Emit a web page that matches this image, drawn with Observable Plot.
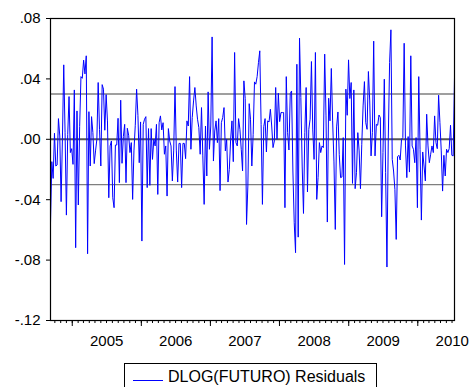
<!DOCTYPE html>
<html>
<head>
<meta charset="utf-8">
<script src="https://cdn.jsdelivr.net/npm/d3@7"></script>
<script src="https://cdn.jsdelivr.net/npm/@observablehq/plot@0.6"></script>
<style>
  html, body { margin: 0; padding: 0; background: #fff; }
  #wrap { position: relative; width: 473px; height: 387px; overflow: hidden; font-family: "Liberation Sans", Arial, sans-serif; }
  #legend { position: absolute; left: 124px; top: 363px; width: 253px; height: 30px; border: 1px solid #000; box-sizing: border-box; background: #fff; }
  #legend .swatch { position: absolute; left: 8px; top: 16px; width: 30px; height: 0; border-top: 1px solid #0000ff; }
  #legend .label { position: absolute; left: 43px; top: 4px; font-size: 16px; color: #000; white-space: nowrap; }
</style>
</head>
<body>
<div id="wrap"><div id="chart"></div><div id="legend"><div class="swatch"></div><div class="label">DLOG(FUTURO) Residuals</div></div></div>
<script>
// Weekly residuals, first observation
const startDate = "2004-09-08";
const residuals = [
-0.0557,-0.0148,-0.0259,0.0040,-0.0177,-0.0170,0.0137,0.0022,-0.0413,0.0000,
0.0493,0.0044,-0.0502,0.0033,0.0283,-0.0088,-0.0062,-0.0166,0.0327,-0.0718,
0.0188,-0.0435,0.0084,0.0415,0.0404,0.0524,0.0433,0.0553,-0.0758,0.0183,
-0.0177,0.0150,0.0044,-0.0161,-0.0077,0.0000,0.0376,0.0066,-0.0177,0.0362,
0.0332,0.0060,0.0296,0.0122,-0.0387,-0.0044,-0.0011,-0.0387,-0.0453,-0.0038,
-0.0038,0.0139,-0.0287,0.0259,-0.0159,0.0018,0.0099,-0.0287,0.0073,0.0027,
-0.0088,-0.0022,-0.0398,-0.0077,0.0093,0.0332,0.0159,-0.0155,0.0115,-0.0674,
0.0099,0.0133,0.0150,-0.0320,0.0071,-0.0305,0.0071,-0.0133,0.0000,-0.0044,
0.0099,-0.0365,0.0110,0.0155,0.0062,0.0110,-0.0099,-0.0044,-0.0376,0.0071,
-0.0011,-0.0044,-0.0276,-0.0077,0.0349,-0.0077,-0.0283,-0.0027,-0.0027,-0.0320,
-0.0027,-0.0027,-0.0128,0.0122,0.0088,0.0415,-0.0066,0.0144,0.0254,0.0343,
0.0221,0.0133,0.0077,-0.0099,0.0210,-0.0110,-0.0431,0.0088,-0.0243,0.0314,
-0.0066,0.0088,0.0678,-0.0144,0.0055,0.0122,-0.0022,0.0137,-0.0340,0.0110,
0.0144,0.0210,-0.0077,0.0000,-0.0283,-0.0199,0.0000,0.0122,-0.0148,0.0575,
-0.0022,-0.0044,0.0137,0.0066,-0.0066,-0.0210,0.0387,0.0270,-0.0564,
-0.0309,0.0236,0.0133,-0.0177,0.0033,0.0380,0.0365,0.0415,0.0508,0.0586,
0.0099,-0.0431,0.0084,0.0137,-0.0084,0.0122,0.0115,0.0199,0.0088,-0.0055,
-0.0011,0.0343,0.0000,0.0305,0.0117,0.0177,0.0177,0.0177,-0.0453,0.0415,
0.0044,-0.0071,0.0303,0.0320,-0.0210,-0.0553,-0.0751,0.0497,-0.0648,0.0670,
0.0276,-0.0177,-0.0491,0.0044,0.0343,-0.0349,0.0066,0.0133,0.0515,0.0062,
-0.0133,0.0575,-0.0398,-0.0254,-0.0022,-0.0088,-0.0044,-0.0055,0.0564,0.0155,
-0.0548,0.0272,0.0122,0.0469,0.0122,-0.0150,-0.0597,0.0082,0.0181,-0.0102,
-0.0254,-0.0250,0.0011,-0.0829,
0.0332,0.0159,0.0526,0.0270,0.0376,-0.0292,0.0327,-0.0327,-0.0221,0.0044,
-0.0077,-0.0327,-0.0033,0.0221,0.0382,0.0110,0.0066,0.0449,0.0254,-0.0110,
0.0044,0.0650,-0.0110,0.0099,0.0093,0.0161,0.0144,-0.0513,-0.0088,0.0398,
-0.0221,-0.0846,0.0000,0.0508,0.0725,-0.0133,-0.0210,-0.0332,-0.0663,-0.0115,
-0.0106,-0.0137,0.0000,0.0011,0.0636,-0.0044,-0.0254,0.0018,-0.0217,0.0553,
-0.0044,-0.0066,-0.0155,0.0011,-0.0453,0.0415,-0.0066,-0.0535,-0.0084,-0.0177,
-0.0276,0.0166,-0.0044,-0.0155,-0.0099,-0.0044,-0.0088,0.0155,-0.0022,-0.0062,
0.0292,0.0110,-0.0077,-0.0343,-0.0106,-0.0243,-0.0066,-0.0088,-0.0062,0.0093,
-0.0106,-0.0110,0.0409
];
const yTicks = [-0.12, -0.08, -0.04, 0, 0.04, 0.08];
const yTickLabels = ["-.12", "-.08", "-.04", ".00", ".04", ".08"];
const bandLevels = [-0.03, 0.03];
const zeroLevel = [0];
const yearLabels = [2005, 2006, 2007, 2008, 2009, 2010];
const seriesName = "DLOG(FUTURO) Residuals";

const start = new Date(startDate + "T00:00:00Z");
const data = residuals.map((v, i) => ({ date: d3.utcWeek.offset(start, i), value: v }));
const x0 = data[0].date, x1 = data[data.length - 1].date;
const monthTicks = d3.utcMonth.range(x0, x1);
const yearTicks = yearLabels.map(y => new Date(Date.UTC(y, 0, 1)));
const yearLabelPos = yearLabels.map(y => new Date(Date.UTC(y, 6, 2)));
const labelOf = new Map(yTicks.map((t, i) => [t, yTickLabels[i]]));

const chart = Plot.plot({
  width: 473,
  height: 360,
  marginLeft: 50,
  marginRight: 19,
  marginTop: 18,
  marginBottom: 40,
  style: { fontFamily: "'Liberation Sans', Arial, sans-serif", fontSize: "15px", color: "#000", background: "#fff" },
  x: { type: "utc", domain: [x0, x1] },
  y: { domain: [-0.12, 0.08] },
  marks: [
    Plot.ruleY(bandLevels, { stroke: "#7f7f7f", strokeWidth: 1.3 }),
    Plot.ruleY(zeroLevel, { stroke: "#555", strokeWidth: 2 }),
    Plot.line(data, { x: "date", y: "value", stroke: "#0000ff", strokeWidth: 1 }),
    Plot.frame({ stroke: "#000", strokeWidth: 1.2 }),
    Plot.axisY({ ticks: yTicks, tickFormat: d => labelOf.get(d) ?? "", tickSize: 4, tickPadding: 6, stroke: "#000", label: null }),
    Plot.axisX({ ticks: monthTicks, tickSize: 3, tickFormat: () => "", stroke: "#000", label: null }),
    Plot.axisX({ ticks: yearTicks, tickSize: 6, tickFormat: () => "", stroke: "#000", label: null }),
    Plot.axisX({ ticks: yearLabelPos, tickSize: 0, tickPadding: 15, tickFormat: d => String(d.getUTCFullYear()), label: null })
  ]
});
document.getElementById("chart").appendChild(chart);
</script>
</body>
</html>
